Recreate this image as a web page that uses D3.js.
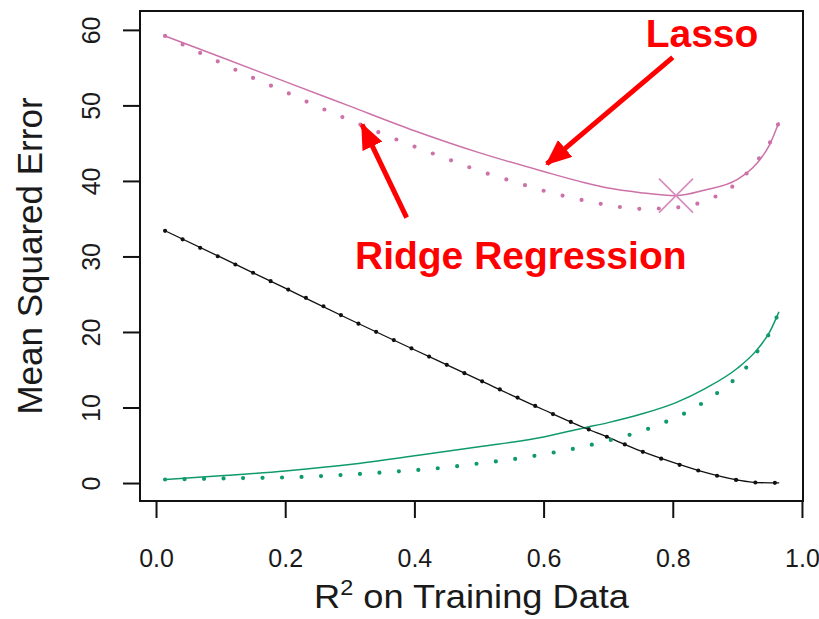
<!DOCTYPE html>
<html>
<head>
<meta charset="utf-8">
<script src="https://cdn.jsdelivr.net/npm/d3@7"></script>
<style>
body { margin: 0; background: #fff; }
svg { display: block; font-family: "Liberation Sans", Arial, sans-serif; }
</style>
</head>
<body>
<svg></svg>
<script>
// values (R^2 on training data vs error)
var lassoR2   = [0.014, 0.1, 0.2, 0.3, 0.4, 0.5, 0.6, 0.662, 0.7, 0.75, 0.805, 0.85, 0.9, 0.93, 0.95, 0.964];
var lassoBias = [33.4, 29.9, 25.8, 21.65, 17.65, 13.65, 9.7, 7.35, 6.05, 4.25, 2.6, 1.4, 0.4, 0.06, 0.03, 0.03];
var lassoVar  = [0.45, 0.95, 1.6, 2.45, 3.6, 4.8, 6.1, 7.3, 8.0, 9.1, 10.65, 12.5, 15.2, 17.6, 20.0, 22.6];
var lassoMSE  = [59.2, 56.4, 53.15, 49.9, 46.65, 43.75, 41.25, 39.8, 39.05, 38.45, 38.05, 38.8, 40.2, 42.3, 44.8, 47.7];

var ridgeR2   = [0.014, 0.05, 0.1, 0.15, 0.2, 0.25, 0.3, 0.35, 0.4, 0.45, 0.5, 0.55, 0.6, 0.65, 0.7, 0.75, 0.8, 0.83, 0.86, 0.89, 0.91, 0.93, 0.95, 0.964];
var ridgeBias = [33.4, 31.9, 29.85, 27.85, 25.8, 23.8, 21.65, 19.65, 17.65, 15.65, 13.65, 11.7, 9.7, 7.8, 6.05, 4.25, 2.7, 1.9, 1.15, 0.55, 0.23, 0.06, 0.03, 0.03];
var ridgeVar  = [0.47, 0.52, 0.6, 0.67, 0.74, 0.9, 1.12, 1.39, 1.7, 2.07, 2.59, 3.12, 3.81, 4.6, 5.62, 6.83, 8.5, 9.75, 11.4, 13.3, 14.9, 17.3, 19.9, 22.6];
var ridgeMSE  = [59.2, 57.7, 55.65, 53.65, 51.8, 49.85, 48.05, 46.25, 44.55, 42.95, 41.35, 40.0, 38.7, 37.65, 36.8, 36.3, 36.45, 36.8, 37.7, 39.1, 40.6, 42.6, 45.0, 47.7];

var xTicks = [0, 0.2, 0.4, 0.6, 0.8, 1.0];
var yTicks = [0, 10, 20, 30, 40, 50, 60];

var svgWidth = 819, svgHeight = 619;
var box = {left: 140, right: 803, top: 11, bottom: 501};

var pink = "#cc72a8", green = "#0f9a6c", black = "#111";

var svg = d3.select('svg')
    .attr("width", svgWidth)
    .attr("height", svgHeight);

var xScale = d3.scaleLinear()
    .domain([-0.0248, 1.0016])
    .range([box.left, box.right]);

var yScale = d3.scaleLinear()
    .domain([-2.38, 62.5])
    .range([box.bottom, box.top]);

// axes
var xAxis = svg.append("g")
    .attr("transform", "translate(0," + box.bottom + ")")
    .call(d3.axisBottom(xScale).tickValues(xTicks).tickFormat(d3.format(".1f")).tickSize(17).tickSizeOuter(0));
xAxis.select(".domain").remove();
xAxis.selectAll("line").attr("stroke", black).attr("stroke-width", 2);
xAxis.selectAll("text")
    .attr("y", 66).attr("dy", 0)
    .attr("fill", "#1a1a1a")
    .style("font-size", "25px");

var yAxis = svg.append("g")
    .attr("transform", "translate(" + box.left + ",0)")
    .call(d3.axisLeft(yScale).tickValues(yTicks).tickSize(17).tickSizeOuter(0));
yAxis.select(".domain").remove();
yAxis.selectAll("line").attr("stroke", black).attr("stroke-width", 2);
yAxis.selectAll("text")
    .attr("transform", "rotate(-90)")
    .attr("x", 0).attr("y", -40).attr("dy", 0)
    .attr("fill", "#1a1a1a")
    .style("text-anchor", "middle")
    .style("font-size", "25px");

// plot box
svg.append("rect")
    .attr("x", box.left).attr("y", box.top)
    .attr("width", box.right - box.left).attr("height", box.bottom - box.top)
    .attr("fill", "none").attr("stroke", black).attr("stroke-width", 2);

// curves
var line = d3.line()
    .x(function (d) { return xScale(d[0]); })
    .y(function (d) { return yScale(d[1]); })
    .curve(d3.curveMonotoneX);

function pairs(xs, ys) {
    return xs.map(function (d, i) { return [d, ys[i]]; });
}

var curves = [
    {x: lassoR2, y: lassoVar, color: green, dotted: false},
    {x: lassoR2, y: lassoBias, color: black, dotted: false, width: 1.3},
    {x: lassoR2, y: lassoMSE, color: pink, dotted: false},
    {x: ridgeR2, y: ridgeVar, color: green, dotted: true},
    {x: ridgeR2, y: ridgeBias, color: black, dotted: true},
    {x: ridgeR2, y: ridgeMSE, color: pink, dotted: true}
];

svg.selectAll("path.curve")
    .data(curves)
    .enter()
    .append("path")
    .attr("class", "curve")
    .attr("d", function (d) { return line(pairs(d.x, d.y)); })
    .attr("fill", "none")
    .attr("stroke", function (d) { return d.color; })
    .attr("stroke-width", function (d) { return d.dotted ? 4.2 : (d.width || 1.5); })
    .attr("stroke-linecap", "round")
    .attr("stroke-dasharray", function (d) { return d.dotted ? "0,19.5" : null; });

// minimum of lasso test MSE
var iMin = d3.minIndex(lassoMSE);
svg.append("path")
    .attr("transform", "translate(" + xScale(lassoR2[iMin]) + "," + yScale(lassoMSE[iMin]) + ")")
    .attr("d", "M-17,-17L17,17M-17,17L17,-17")
    .attr("stroke", "#d68cbe")
    .attr("stroke-width", 1.6)
    .attr("fill", "none");

// axis titles
svg.append("text")
    .attr("x", (box.left + box.right) / 2)
    .attr("y", 608)
    .attr("text-anchor", "middle")
    .attr("fill", "#1a1a1a")
    .attr("textLength", 315)
    .attr("lengthAdjust", "spacingAndGlyphs")
    .style("font-size", "34px")
    .html('R<tspan dy="-13" font-size="22px">2</tspan><tspan dy="13"> on Training Data</tspan>');

svg.append("text")
    .attr("transform", "translate(42," + (box.top + box.bottom) / 2 + ") rotate(-90)")
    .attr("text-anchor", "middle")
    .attr("fill", "#1a1a1a")
    .style("font-size", "35px")
    .text("Mean Squared Error");

// annotations
var red = "#ff0000";
svg.append("defs").append("marker")
    .attr("id", "head")
    .attr("markerUnits", "userSpaceOnUse")
    .attr("viewBox", "0 0 26 22")
    .attr("refX", 24).attr("refY", 11)
    .attr("markerWidth", 26).attr("markerHeight", 22)
    .attr("orient", "auto")
    .append("path")
    .attr("d", "M0,0L26,11L0,22Z")
    .attr("fill", red);

var arrows = [
    {from: [0.388, 35.15], to: [0.319, 47.45]},
    {from: [0.80, 56.35], to: [0.605, 42.25]}
];
svg.selectAll("line.arrow")
    .data(arrows)
    .enter()
    .append("line")
    .attr("class", "arrow")
    .attr("x1", function (d) { return xScale(d.from[0]); })
    .attr("y1", function (d) { return yScale(d.from[1]); })
    .attr("x2", function (d) { return xScale(d.to[0]); })
    .attr("y2", function (d) { return yScale(d.to[1]); })
    .attr("stroke", red)
    .attr("stroke-width", 5)
    .attr("marker-end", "url(#head)");

var labels = [
    {text: "Lasso", at: [0.758, 57.75]},
    {text: "Ridge Regression", at: [0.308, 28.3]}
];
svg.selectAll("text.note")
    .data(labels)
    .enter()
    .append("text")
    .attr("class", "note")
    .attr("x", function (d) { return xScale(d.at[0]); })
    .attr("y", function (d) { return yScale(d.at[1]); })
    .attr("fill", red)
    .style("font-size", "39px")
    .style("font-weight", "bold")
    .text(function (d) { return d.text; });
</script>
</body>
</html>
